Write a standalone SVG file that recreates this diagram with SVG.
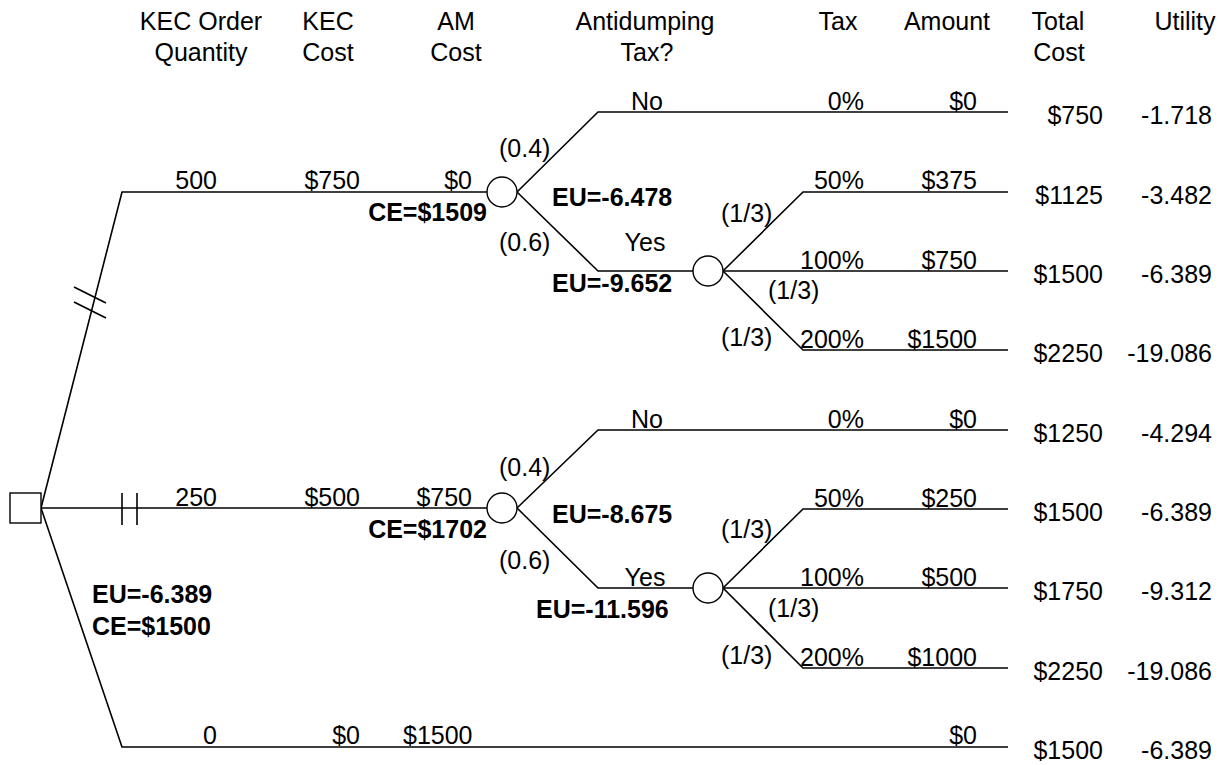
<svg xmlns="http://www.w3.org/2000/svg" width="1227" height="765" viewBox="0 0 1227 765">
  <style>
    text { font-family: "Liberation Sans", Arial, sans-serif; font-size: 25px; fill: #000; }
    .b { font-weight: bold; }
    .m { text-anchor: middle; }
    .e { text-anchor: end; }
    .ln { stroke: #000; stroke-width: 1.6; fill: none; }
    .node { stroke: #000; stroke-width: 1.4; fill: #fff; }
  </style>
  <rect width="1227" height="765" fill="#fff"/>

  <!-- column headings -->
  <g id="headers">
    <text class="m" x="201" y="30">KEC Order</text>
    <text class="m" x="201" y="61">Quantity</text>
    <text class="m" x="328" y="30">KEC</text>
    <text class="m" x="328" y="61">Cost</text>
    <text class="m" x="456" y="30">AM</text>
    <text class="m" x="456" y="61">Cost</text>
    <text class="m" x="645" y="30">Antidumping</text>
    <text class="m" x="647" y="61">Tax?</text>
    <text class="m" x="838" y="30">Tax</text>
    <text class="m" x="947" y="30">Amount</text>
    <text class="m" x="1058" y="30">Total</text>
    <text class="m" x="1059" y="61">Cost</text>
    <text class="m" x="1185" y="30">Utility</text>
  </g>

  <!-- branches -->
  <g id="connectors" class="ln">
    <!-- order quantity alternatives -->
    <polyline points="41,508 122,192 487,192"/>
    <line x1="41" y1="508" x2="487" y2="508"/>
    <polyline points="41,508 122,747 1008,747"/>
    <!-- pruned markers -->
    <line x1="74" y1="287" x2="106" y2="303"/>
    <line x1="74" y1="302" x2="106" y2="318"/>
    <line x1="122" y1="493" x2="122" y2="525"/>
    <line x1="137" y1="493" x2="137" y2="525"/>
    <!-- order 500: antidumping tax -->
    <polyline points="517,192 598,112 1008,112"/>
    <polyline points="517,192 598,271 693,271"/>
    <polyline points="723,271 803,192 1008,192"/>
    <line x1="723" y1="271" x2="1008" y2="271"/>
    <polyline points="723,271 803,350 1008,350"/>
    <!-- order 250: antidumping tax -->
    <polyline points="517,508 598,430 1008,430"/>
    <polyline points="517,508 598,588 693,588"/>
    <polyline points="723,588 803,509 1008,509"/>
    <line x1="723" y1="588" x2="1008" y2="588"/>
    <polyline points="723,588 803,668 1008,668"/>
  </g>

  <g id="decision-order">
    <rect class="node" x="10" y="493" width="31" height="30"/>
    <text class="b" x="92" y="603">EU=-6.389</text>
    <text class="b" x="92" y="635">CE=$1500</text>
  </g>

  <g id="chance-tax-500">
    <circle class="node" cx="502" cy="192" r="15"/>
    <text class="b e" x="487" y="221">CE=$1509</text>
    <text x="499" y="157">(0.4)</text>
    <text x="499" y="251">(0.6)</text>
    <text class="b" x="552" y="206">EU=-6.478</text>
    <text class="b" x="552" y="292">EU=-9.652</text>
  </g>

  <g id="chance-rate-500">
    <circle class="node" cx="708" cy="271" r="15"/>
    <text x="721" y="222">(1/3)</text>
    <text x="768" y="299">(1/3)</text>
    <text x="721" y="346">(1/3)</text>
  </g>

  <g id="chance-tax-250">
    <circle class="node" cx="502" cy="508" r="15"/>
    <text class="b e" x="487" y="537.5">CE=$1702</text>
    <text x="499" y="476">(0.4)</text>
    <text x="499" y="569">(0.6)</text>
    <text class="b" x="552" y="523">EU=-8.675</text>
    <text class="b" x="536" y="618">EU=-11.596</text>
  </g>

  <g id="chance-rate-250">
    <circle class="node" cx="708" cy="588" r="15"/>
    <text x="721" y="538">(1/3)</text>
    <text x="768" y="617">(1/3)</text>
    <text x="721" y="664">(1/3)</text>
  </g>

  <!-- branch values -->
  <g id="branch-labels">
    <text class="e" x="217" y="189">500</text>
    <text class="e" x="360" y="189">$750</text>
    <text class="e" x="472" y="189">$0</text>
    <text class="e" x="217" y="506">250</text>
    <text class="e" x="360" y="506">$500</text>
    <text class="e" x="472" y="506">$750</text>
    <text class="e" x="217" y="744">0</text>
    <text class="e" x="360" y="744">$0</text>
    <text x="403" y="744">$1500</text>

    <text class="m" x="647" y="109.5">No</text>
    <text class="m" x="645" y="251">Yes</text>
    <text class="m" x="647" y="427.5">No</text>
    <text class="m" x="645" y="585.5">Yes</text>

    <text class="e" x="864" y="109.5">0%</text>
    <text class="e" x="864" y="189">50%</text>
    <text class="e" x="864" y="268.5">100%</text>
    <text class="e" x="864" y="347.5">200%</text>
    <text class="e" x="864" y="427.5">0%</text>
    <text class="e" x="864" y="506.5">50%</text>
    <text class="e" x="864" y="585.5">100%</text>
    <text class="e" x="864" y="665.5">200%</text>

    <text class="e" x="977" y="109.5">$0</text>
    <text class="e" x="977" y="189">$375</text>
    <text class="e" x="977" y="268.5">$750</text>
    <text class="e" x="977" y="347.5">$1500</text>
    <text class="e" x="977" y="427.5">$0</text>
    <text class="e" x="977" y="506.5">$250</text>
    <text class="e" x="977" y="585.5">$500</text>
    <text class="e" x="977" y="665.5">$1000</text>
    <text class="e" x="977" y="744">$0</text>
  </g>

  <!-- outcomes -->
  <g id="outcomes">
    <text class="e" x="1103" y="124">$750</text>
    <text class="e" x="1212" y="124">-1.718</text>
    <text class="e" x="1103" y="204">$1125</text>
    <text class="e" x="1212" y="204">-3.482</text>
    <text class="e" x="1103" y="283">$1500</text>
    <text class="e" x="1212" y="283">-6.389</text>
    <text class="e" x="1103" y="362">$2250</text>
    <text class="e" x="1212" y="362">-19.086</text>
    <text class="e" x="1103" y="442">$1250</text>
    <text class="e" x="1212" y="442">-4.294</text>
    <text class="e" x="1103" y="521">$1500</text>
    <text class="e" x="1212" y="521">-6.389</text>
    <text class="e" x="1103" y="600">$1750</text>
    <text class="e" x="1212" y="600">-9.312</text>
    <text class="e" x="1103" y="680">$2250</text>
    <text class="e" x="1212" y="680">-19.086</text>
    <text class="e" x="1103" y="759">$1500</text>
    <text class="e" x="1212" y="759">-6.389</text>
  </g>
</svg>
